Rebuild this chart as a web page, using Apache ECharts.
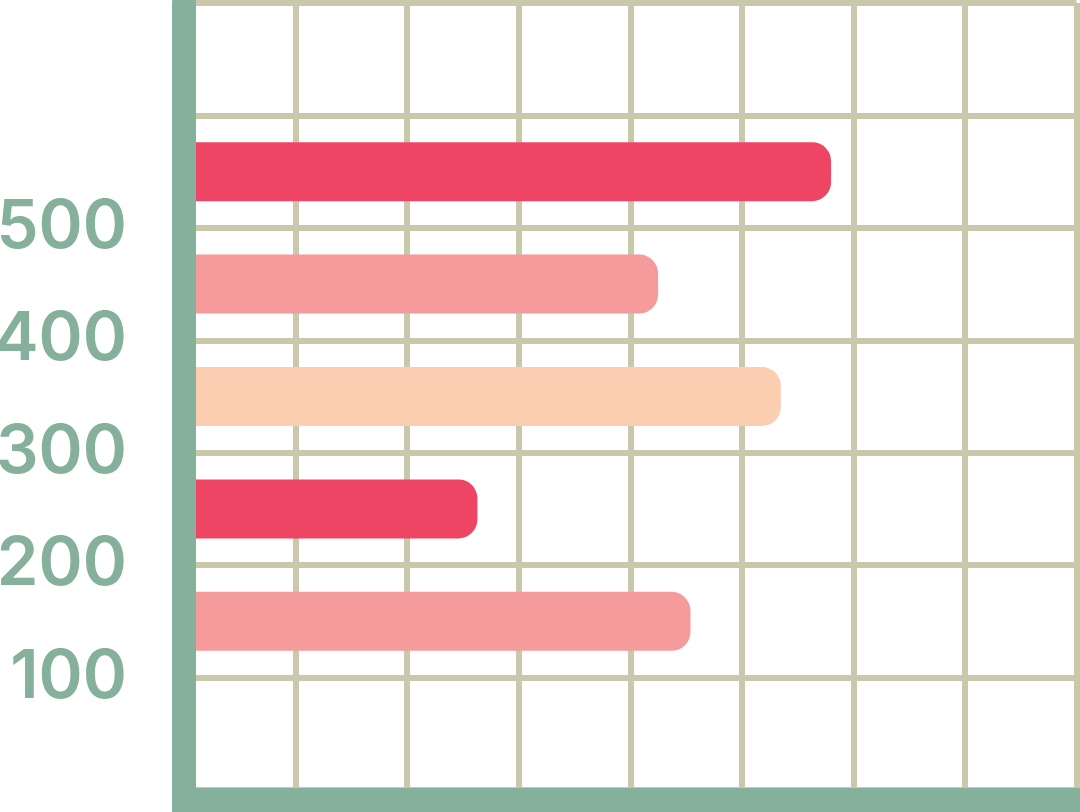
<!DOCTYPE html>
<html>
<head>
<meta charset="utf-8">
<script src="https://cdn.jsdelivr.net/npm/echarts@6/dist/echarts.min.js"></script>
<style>
html,body{margin:0;padding:0;background:#ffffff;}
#chart{width:1080px;height:812px;}
</style>
</head>
<body>
<div id="chart"></div>
<script>
// Rows from top to bottom (first and last rows are empty)
const categories = ['top', 'A', 'B', 'C', 'D', 'E', 'bottom'];
const values = [null, 580, 425, 535, 263, 454, null];
const yTickLabels = [100, 200, 300, 400, 500];

const barColors = ['#ef4565', '#ef4565', '#f69b9b', '#fbceb1', '#ef4565', '#f69b9b', '#ef4565'];
const axisGreen = '#85b09b';
const gridColor = '#c9c8ab';

const chart = echarts.init(document.getElementById('chart'), null, {renderer: 'canvas'});
chart.setOption({
  backgroundColor: '#ffffff',
  animation: false,
  grid: {left: 184, right: 3.5, top: 3, bottom: 22, containLabel: false, outerBoundsMode: 'none'},
  xAxis: [
    {
      type: 'value', min: 0, max: 800, interval: 100, z: 0,
      axisLine: {show: false}, axisTick: {show: false}, axisLabel: {show: false},
      splitLine: {show: true, lineStyle: {color: gridColor, width: 6}}
    },
    {
      type: 'value', min: 0, max: 800, interval: 100, position: 'bottom', offset: 10, z: 10,
      axisLine: {show: true, onZero: false, lineStyle: {color: axisGreen, width: 24, cap: 'square'}},
      axisTick: {show: false}, axisLabel: {show: false}, splitLine: {show: false}
    }
  ],
  yAxis: [
    {
      type: 'category', data: categories, inverse: true, boundaryGap: true, position: 'left', z: 10,
      axisLine: {show: true, onZero: false, lineStyle: {color: axisGreen, width: 24}},
      axisTick: {show: false}, axisLabel: {show: false}, splitLine: {show: false}
    },
    {
      type: 'value', min: 0, max: 700, interval: 100, position: 'left', z: 0,
      axisLine: {show: false}, axisTick: {show: false},
      splitLine: {show: true, lineStyle: {color: gridColor, width: 6}},
      axisLabel: {
        show: true, margin: 57, color: axisGreen, padding: [12, 0, 0, 0],
        fontFamily: 'Inter', fontWeight: 600, fontSize: 67,
        formatter: function (v) { return yTickLabels.indexOf(v) >= 0 ? String(v) : ''; }
      }
    }
  ],
  series: [{
    type: 'bar', xAxisIndex: 0, yAxisIndex: 0, z: 2,
    barWidth: 59,
    data: values.map(function (v, i) {
      return {value: v, itemStyle: {color: barColors[i], borderRadius: [0, 19, 19, 0]}};
    })
  }]
});
</script>
</body>
</html>
